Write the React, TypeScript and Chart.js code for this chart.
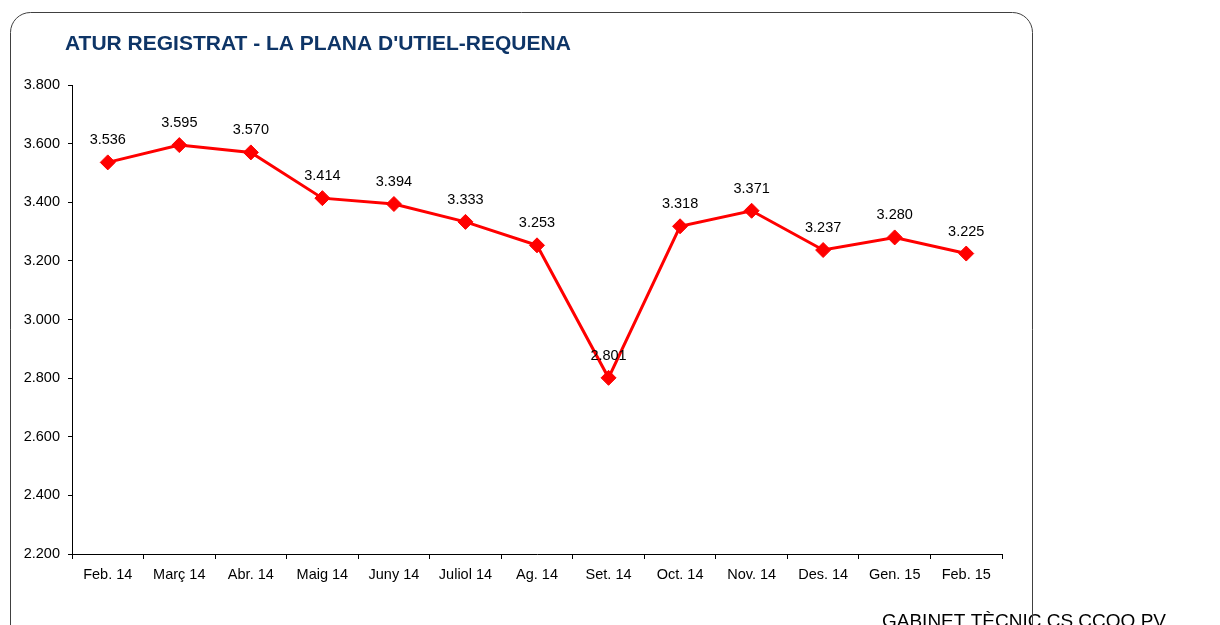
import React, { useEffect, useRef } from "react";
import { Chart, registerables } from "chart.js";

Chart.register(...registerables);

const categories = ["Feb. 14", "Març 14", "Abr. 14", "Maig 14", "Juny 14", "Juliol 14", "Ag. 14", "Set. 14", "Oct. 14", "Nov. 14", "Des. 14", "Gen. 15", "Feb. 15"];
const atur = [3536, 3595, 3570, 3414, 3394, 3333, 3253, 2801, 3318, 3371, 3237, 3280, 3225];
const yMin = 2200;
const yMax = 3800;
const yStep = 200;
const titleText = "ATUR REGISTRAT - LA PLANA D'UTIEL-REQUENA";
const footerText = "GABINET TÈCNIC CS CCOO PV";

const fmt = (n: number) => {
  const th = Math.floor(n / 1000);
  const rest = Math.round(n % 1000);
  return th > 0 ? th + "." + String(rest).padStart(3, "0") : String(rest);
};

const FONT = "'Liberation Sans', Arial, sans-serif";

const decorPlugin = {
  id: "decor",
  beforeDraw(chart: any) {
    const ctx = chart.ctx;
    ctx.save();
    ctx.fillStyle = "#ffffff";
    ctx.fillRect(0, 0, chart.width, chart.height);
    ctx.restore();
  },
  afterDatasetsDraw(chart: any) {
    const ctx = chart.ctx;
    const meta = chart.getDatasetMeta(0);
    ctx.save();
    ctx.fillStyle = "#000000";
    ctx.font = `14.5px ${FONT}`;
    ctx.textAlign = "center";
    ctx.textBaseline = "middle";
    meta.data.forEach((pt: any, i: number) => {
      ctx.fillText(fmt(atur[i]), pt.x, pt.y - 22);
    });
    ctx.restore();
  },
  afterDraw(chart: any) {
    const ctx = chart.ctx;
    ctx.save();
    // title
    ctx.fillStyle = "#0E3567";
    ctx.font = `bold 21px ${FONT}`;
    ctx.textAlign = "left";
    ctx.textBaseline = "alphabetic";
    ctx.fillText(titleText, 65, 50);
    // footer
    ctx.fillStyle = "#000000";
    ctx.font = `19px ${FONT}`;
    ctx.fillText(footerText, 882, 627);
    // border
    const x0 = 10.5, y0 = 12.5, x1 = 1032.5, y1 = 660, r = 20;
    ctx.strokeStyle = "#404040";
    ctx.lineWidth = 1;
    ctx.beginPath();
    ctx.moveTo(x0, y1);
    ctx.lineTo(x0, y0 + r);
    ctx.arcTo(x0, y0, x0 + r, y0, r);
    ctx.lineTo(x1 - r, y0);
    ctx.arcTo(x1, y0, x1, y0 + r, r);
    ctx.lineTo(x1, y1);
    ctx.stroke();
    ctx.restore();
  },
};

export default function App() {
  const ref = useRef<HTMLCanvasElement>(null);
  useEffect(() => {
    if (!ref.current) return;
    const chart = new Chart(ref.current, {
      type: "line",
      data: {
        labels: categories,
        datasets: [
          {
            data: atur,
            borderColor: "#FF0000",
            backgroundColor: "#FF0000",
            borderWidth: 3,
            pointStyle: "rectRot",
            pointRadius: 7.5,
            pointHoverRadius: 7.5,
            pointBackgroundColor: "#FF0000",
            pointBorderColor: "#FF0000",
            pointBorderWidth: 1,
            tension: 0,
          },
        ],
      },
      options: {
        responsive: false,
        animation: false,
        devicePixelRatio: 1,
        layout: { padding: { left: 20, right: 218, top: 85, bottom: 41 } },
        plugins: {
          legend: { display: false },
          title: { display: false },
          tooltip: { enabled: false },
        },
        scales: {
          x: {
            type: "category",
            offset: true,
            grid: {
              offset: true,
              drawOnChartArea: false,
              drawTicks: true,
              tickLength: 5,
              color: "#000000",
            },
            border: { display: true, color: "#000000", width: 1 },
            ticks: {
              color: "#000000",
              font: { family: FONT, size: 14.5 },
              padding: 7,
              maxRotation: 0,
              autoSkip: false,
            },
            afterFit: (s: any) => {
              s.height = 30;
            },
          },
          y: {
            min: yMin,
            max: yMax,
            grid: {
              drawOnChartArea: false,
              drawTicks: true,
              tickLength: 4,
              color: "#000000",
            },
            border: { display: true, color: "#000000", width: 1 },
            ticks: {
              stepSize: yStep,
              color: "#000000",
              font: { family: FONT, size: 14.5 },
              padding: 8,
              callback: (v: any) => fmt(Number(v)),
            },
            afterFit: (s: any) => {
              s.width = 52;
            },
          },
        },
      },
      plugins: [decorPlugin],
    });
    return () => chart.destroy();
  }, []);
  return (
    <div style={{ position: "fixed", left: 0, top: 0, width: 1220, height: 625, overflow: "hidden", background: "#fff" }}>
      <canvas ref={ref} width={1220} height={625} style={{ width: 1220, height: 625, display: "block" }} />
    </div>
  );
}
